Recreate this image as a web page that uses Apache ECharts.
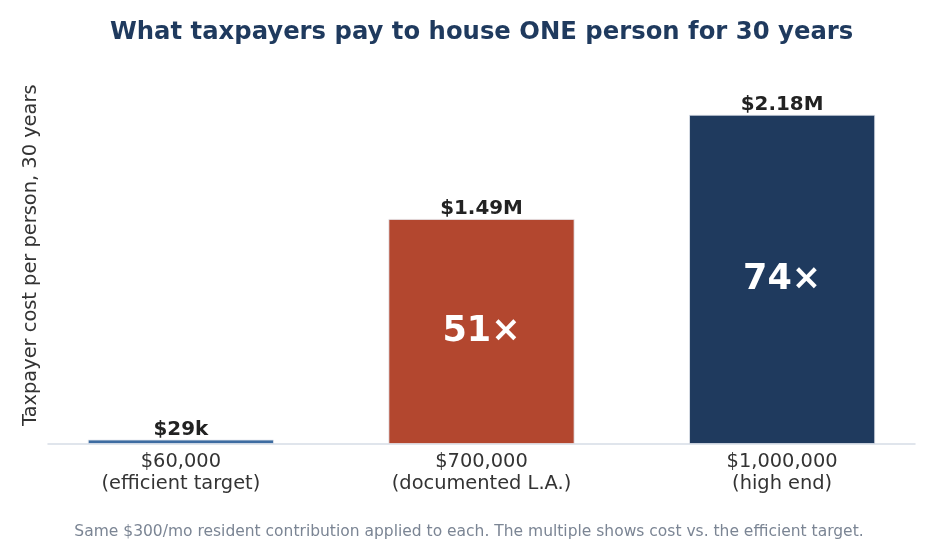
<!DOCTYPE html>
<html>
<head>
<meta charset="utf-8">
<script src="https://cdn.jsdelivr.net/npm/echarts@6/dist/echarts.min.js"></script>
<style>
html,body{margin:0;padding:0;background:#fff;}
#chart{width:938px;height:539px;}
</style>
</head>
<body>
<div id="chart"></div>
<script>
var categories = ["$60,000\n(efficient target)", "$700,000\n(documented L.A.)", "$1,000,000\n(high end)"];
var costs = [29000, 1490000, 2180000];
var costLabels = ["$29k", "$1.49M", "$2.18M"];
var multiples = ["", "51\u00d7", "74\u00d7"];
var barColors = ["#3d6ca1", "#b3472f", "#1f3a5e"];

var FONT = "DejaVu Sans, Verdana, sans-serif";
var chart = echarts.init(document.getElementById('chart'), null, {renderer: 'canvas'});

var barData = costs.map(function (v, i) {
  return { value: [i, v], itemStyle: { color: barColors[i] } };
});

chart.setOption({
  backgroundColor: '#ffffff',
  animation: false,
  title: [{
    text: 'What taxpayers pay to house ONE person for 30 years',
    left: 105,
    top: 16,
    textStyle: { fontFamily: FONT, fontSize: 24.3, fontWeight: 'bold', color: '#1f3a5e' }
  }, {
    text: 'Same $300/mo resident contribution applied to each. The multiple shows cost vs. the efficient target.',
    left: 'center',
    top: 519,
    textStyle: { fontFamily: FONT, fontSize: 15.5, fontWeight: 'normal', color: '#7b8594' }
  }],
  grid: { left: 48, right: 23, top: 66.5, bottom: 95 },
  xAxis: {
    type: 'value',
    min: -0.442,
    max: 2.442,
    splitLine: { show: false },
    axisTick: { show: false },
    axisLine: { show: true, lineStyle: { color: '#d6dde6', width: 1.5 } },
    axisLabel: {
      customValues: [0, 1, 2],
      margin: 7,
      fontFamily: FONT,
      fontSize: 19.4,
      lineHeight: 22,
      color: '#333333',
      formatter: function (v) { return categories[Math.round(v)]; }
    }
  },
  yAxis: {
    type: 'value',
    min: 0,
    max: 2500000,
    name: 'Taxpayer cost per person, 30 years',
    nameLocation: 'middle',
    nameGap: 8,
    nameTextStyle: { fontFamily: FONT, fontSize: 19.4, color: '#333333' },
    axisLine: { show: false },
    axisTick: { show: false },
    axisLabel: { show: false },
    splitLine: { show: false }
  },
  series: [{
    type: 'bar',
    barWidth: 186,
    barGap: '-100%',
    data: barData,
    itemStyle: { borderColor: '#e4e9ef', borderWidth: 0.8 },
    label: {
      show: true,
      position: 'inside',
      fontFamily: FONT,
      fontSize: 35,
      fontWeight: 'bold',
      color: '#ffffff',
      formatter: function (p) { return multiples[p.dataIndex]; }
    },
    z: 2
  }, {
    type: 'bar',
    barWidth: 186,
    barGap: '-100%',
    data: costs.map(function (v, i) { return [i, v]; }),
    itemStyle: { color: 'rgba(0,0,0,0)' },
    label: {
      show: true,
      position: 'top',
      distance: 0,
      fontFamily: FONT,
      fontSize: 19.9,
      fontWeight: 'bold',
      color: '#222222',
      formatter: function (p) { return costLabels[p.dataIndex]; }
    },
    z: 3
  }]
});
</script>
</body>
</html>
